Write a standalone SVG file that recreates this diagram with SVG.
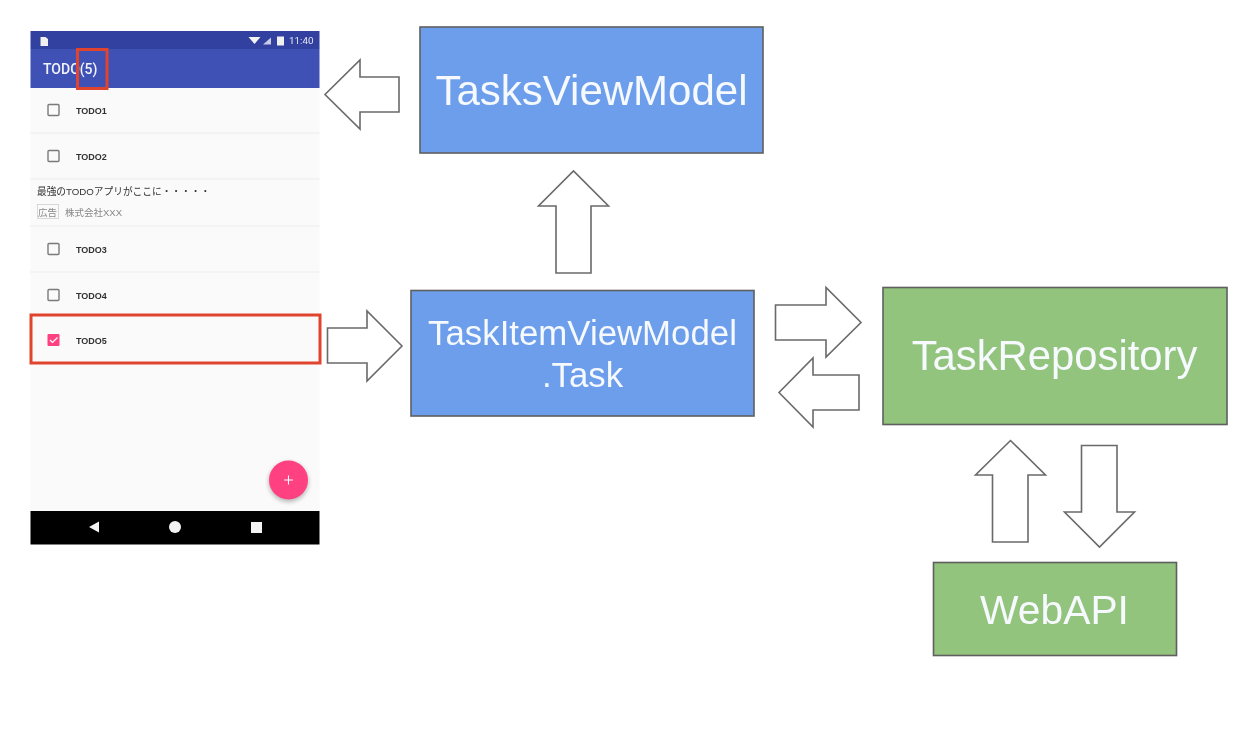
<svg xmlns="http://www.w3.org/2000/svg" width="1243" height="750" viewBox="0 0 1243 750">
<defs>
<filter id="soft" x="-5%" y="-5%" width="110%" height="110%"><feGaussianBlur stdDeviation="0.35"/></filter>
<filter id="softer" x="-5%" y="-5%" width="110%" height="110%"><feGaussianBlur stdDeviation="0.25"/></filter>
<filter id="shadow" x="-40%" y="-40%" width="180%" height="180%"><feGaussianBlur stdDeviation="2"/></filter>
</defs>
<style>
.bg{fill:#fff}
.box{stroke:#5f5f5f;stroke-width:1.6}
.blue{fill:#6d9eeb}
.green{fill:#93c47d}
.lbl{font-family:"Liberation Sans",Arial,sans-serif;fill:#f6f9fd;text-anchor:middle}
.arrow{fill:#fff;stroke:#6a6a6a;stroke-width:1.6;stroke-linejoin:miter}
.sep{stroke:#ececec;stroke-width:1.2}
.chk{fill:none;stroke:#7a7a7a;stroke-width:1.4}
.todo{font-family:"Liberation Sans",Arial,sans-serif;font-weight:bold;font-size:9px;fill:#333}
.red{fill:none;stroke:#e0442f;stroke-width:3}
</style>
<rect class="bg" width="1243" height="750"/>
<g id="phone">
<g filter="url(#soft)">
<rect x="30.5" y="88" width="289" height="423" fill="#fafafa"/>
<rect x="30.5" y="31" width="289" height="18" fill="#303f9f"/>
<rect x="30.5" y="49" width="289" height="39" fill="#3f51b5"/>
<path d="M40.500 37h5l2.500 2v7h-7.500z" fill="#f0f0f0"/>
<path d="M248.500 37h12l-6 7z" fill="#f4f4f4"/>
<path d="M263 44.500l8-7v7z" fill="#c8cbe6"/>
<rect x="277" y="36.500" width="7" height="9" fill="#f0f0f0"/>
<text x="289" y="44" font-family="Roboto,sans-serif" font-size="9.800" fill="#e6e8f5">11:40</text>
<text x="43" y="74" font-family="Roboto,sans-serif" font-size="14" font-weight="500" fill="#f2f3fa">TODO(5)</text>
<line class="sep" x1="30.500" x2="319.500" y1="133" y2="133"/>
<line class="sep" x1="30.500" x2="319.500" y1="179" y2="179"/>
<line class="sep" x1="30.500" x2="319.500" y1="226" y2="226"/>
<line class="sep" x1="30.500" x2="319.500" y1="272" y2="272"/>
<rect class="chk" x="48" y="104.500" width="11" height="11" rx="1"/>
<rect class="chk" x="48" y="150.500" width="11" height="11" rx="1"/>
<rect class="chk" x="48" y="243.500" width="11" height="11" rx="1"/>
<rect class="chk" x="48" y="289.500" width="11" height="11" rx="1"/>
<rect x="47.500" y="334" width="12" height="12" rx="1" fill="#ff4081"/>
<path d="M50 340l2.500 2.500 5-5" fill="none" stroke="#fff" stroke-width="1.200"/>
<text class="todo" x="76" y="113.500">TODO1</text>
<text class="todo" x="76" y="159.500">TODO2</text>
<text class="todo" x="76" y="252.500">TODO3</text>
<text class="todo" x="76" y="298.500">TODO4</text>
<text class="todo" x="76" y="343.500">TODO5</text>
<text x="37" y="195" font-family="'Liberation Sans','Noto Sans CJK JP',sans-serif" font-size="9.700" fill="#333">最強のTODOアプリがここに・・・・・</text>
<rect x="37.500" y="204.500" width="21" height="14" fill="none" stroke="#d0d0d0" stroke-width="0.800"/>
<text x="38" y="216" font-family="'Noto Sans CJK JP',sans-serif" font-size="9.500" fill="#888">広告</text>
<text x="65" y="216" font-family="'Liberation Sans','Noto Sans CJK JP',sans-serif" font-size="9.500" fill="#888">株式会社XXX</text>
<circle cx="288.500" cy="482" r="20" fill="#000" opacity="0.250" filter="url(#shadow)"/>
<circle cx="288.500" cy="480" r="19.500" fill="#ff4081"/>
<path d="M284 480h9M288.500 475.500v9" stroke="#fff" stroke-width="1.100"/>
<rect x="30.500" y="511" width="289" height="33.500" fill="#000"/>
<path d="M99 521.500v11l-10-5.500z" fill="#f4f4f4"/>
<circle cx="175" cy="527" r="6" fill="#f4f4f4"/>
<rect x="251" y="522" width="11" height="11" fill="#f4f4f4"/>
</g>
<rect class="red" x="77.500" y="49.500" width="29.500" height="39"/>
<rect class="red" x="31" y="315" width="289" height="48"/>
</g>
<g id="connectors" filter="url(#softer)">
<path class="arrow" d="M399 77V112H360V129L325 94.500L360 60V77Z"/>
<path class="arrow" d="M556 273V206H538.500L573.500 171L608.500 206H591V273Z"/>
<path class="arrow" d="M327.500 328H367V311L402 346L367 381V363H327.500Z"/>
<path class="arrow" d="M775.500 305H826V287.500L861 322.500L826 357V340H775.500Z"/>
<path class="arrow" d="M859 375H813V358L779 392.500L813 427V410H859Z"/>
<path class="arrow" d="M992.500 542V475H975.500L1010.500 440.500L1045.500 475H1028V542Z"/>
<path class="arrow" d="M1081.500 445.500H1117V512H1134.500L1099.500 547L1064.500 512H1081.500Z"/>
</g>
<g id="tasks-view-model" filter="url(#softer)">
<rect class="box blue" x="420" y="27" width="343" height="126"/>
<text class="lbl" x="591.500" y="105" font-size="42">TasksViewModel</text>
</g>
<g id="task-item-view-model" filter="url(#softer)">
<rect class="box blue" x="411" y="290.500" width="343" height="125.500"/>
<text class="lbl" x="582.500" y="345" font-size="34.800">TaskItemViewModel</text>
<text class="lbl" x="582.500" y="387" font-size="34.800">.Task</text>
</g>
<g id="task-repository" filter="url(#softer)">
<rect class="box green" x="883" y="287.500" width="344" height="137"/>
<text class="lbl" x="1054.500" y="370" font-size="41.800">TaskRepository</text>
</g>
<g id="web-api" filter="url(#softer)">
<rect class="box green" x="933.500" y="562.500" width="243" height="93"/>
<text class="lbl" x="1054.500" y="624" font-size="40.800">WebAPI</text>
</g>
</svg>
